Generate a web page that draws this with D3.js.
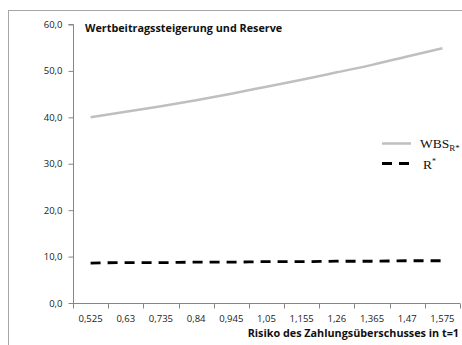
<!DOCTYPE html>
<html>
<head>
<meta charset="utf-8">
<script src="https://cdn.jsdelivr.net/npm/d3@7"></script>
<style>
  html, body { margin: 0; padding: 0; background: #fff; }
  svg { display: block; }
</style>
</head>
<body>
<svg id="chart" width="462" height="345"></svg>
<script>
// Risiko-Stufen (Kategorien der x-Achse)
const categories = ["0,525", "0,63", "0,735", "0,84", "0,945", "1,05", "1,155", "1,26", "1,365", "1,47", "1,575"];
// Wertbeitragssteigerung WBS_R*
const wbsValues = [40.0, 41.2, 42.4, 43.7, 45.1, 46.6, 48.1, 49.7, 51.3, 53.1, 54.9];
// Reserve R*
const reserveValues = [8.6, 8.7, 8.7, 8.8, 8.8, 8.9, 8.9, 9.0, 9.0, 9.1, 9.1];
// Beschriftung der y-Achse
const yTicks = [0, 10, 20, 30, 40, 50, 60];

const svg = d3.select("#chart");
const sans = "'Open Sans', Lato, sans-serif";
const axisGrey = "#868686";

// Rahmen des Diagrammbereichs
svg.append("rect")
  .attr("x", 8.5).attr("y", 10.5)
  .attr("width", 470).attr("height", 360)
  .attr("fill", "none").attr("stroke", "#a6a6a6").attr("stroke-width", 1);

const plot = { left: 73, right: 460, top: 24.5, bottom: 303 };

const x = d3.scaleBand().domain(categories).range([plot.left, plot.right]).padding(0);
const y = d3.scaleLinear().domain([0, 60]).range([plot.bottom, plot.top]);

const fmt = d => d.toFixed(1).replace(".", ",");

// y-Achse
const yAxis = svg.append("g")
  .attr("transform", `translate(${plot.left + 0.5},0)`)
  .call(d3.axisLeft(y).tickValues(yTicks).tickFormat(fmt).tickSize(5).tickPadding(6));
yAxis.select(".domain").attr("stroke", axisGrey).attr("d", `M-5,${y(60)}H0V${y(0)}`);
yAxis.selectAll(".tick line").attr("stroke", axisGrey);
yAxis.selectAll(".tick text").attr("font-family", sans).attr("font-size", 9.5).attr("fill", "#222");

// x-Achse mit Teilstrichen an den Kategoriegrenzen
const xAxisG = svg.append("g").attr("transform", `translate(0,${plot.bottom + 0.5})`);
xAxisG.append("line")
  .attr("x1", plot.left).attr("x2", plot.right)
  .attr("stroke", axisGrey);
const bounds = categories.map(c => x(c)).concat([plot.right]);
xAxisG.selectAll("line.tk").data(bounds).join("line")
  .attr("class", "tk")
  .attr("x1", d => Math.round(d) + 0.5).attr("x2", d => Math.round(d) + 0.5)
  .attr("y1", 0).attr("y2", 5)
  .attr("stroke", axisGrey);
xAxisG.selectAll("text").data(categories).join("text")
  .attr("x", d => x(d) + x.bandwidth() / 2)
  .attr("y", 18)
  .attr("text-anchor", "middle")
  .attr("font-family", sans).attr("font-size", 9.5).attr("fill", "#222")
  .text(d => d);

// Linien
const line = d3.line()
  .x((d, i) => x(categories[i]) + x.bandwidth() / 2)
  .y(d => y(d))
  .curve(d3.curveMonotoneX);

svg.append("path").datum(wbsValues)
  .attr("d", line)
  .attr("fill", "none").attr("stroke", "#bfbfbf").attr("stroke-width", 2.5);

svg.append("path").datum(reserveValues)
  .attr("d", line)
  .attr("fill", "none").attr("stroke", "#000").attr("stroke-width", 2.8)
  .attr("stroke-dasharray", "10,7");

// Titel
svg.append("text")
  .attr("x", 85).attr("y", 32)
  .attr("font-family", sans).attr("font-size", 10.8).attr("font-weight", "bold").attr("fill", "#111")
  .text("Wertbeitragssteigerung und Reserve");

// Achsentitel
svg.append("text")
  .attr("x", 459).attr("y", 337)
  .attr("text-anchor", "end")
  .attr("font-family", sans).attr("font-size", 10.8).attr("font-weight", "bold").attr("fill", "#111")
  .text("Risiko des Zahlungsüberschusses in t=1");

// Legende
const legend = svg.append("g");
legend.append("line")
  .attr("x1", 382).attr("x2", 411).attr("y1", 143.5).attr("y2", 143.5)
  .attr("stroke", "#bfbfbf").attr("stroke-width", 2.5);
legend.append("line")
  .attr("x1", 382).attr("x2", 411).attr("y1", 163.5).attr("y2", 163.5)
  .attr("stroke", "#000").attr("stroke-width", 2.8).attr("stroke-dasharray", "10,7");

const serif = "'Liberation Serif', 'DejaVu Serif', serif";
const t1 = legend.append("text")
  .attr("x", 420).attr("y", 148)
  .attr("font-family", serif).attr("font-size", 13.5).attr("fill", "#111");
t1.append("tspan").text("WBS");
t1.append("tspan").attr("dy", 3).attr("font-size", 9).text("R*");

const t2 = legend.append("text")
  .attr("x", 423).attr("y", 169)
  .attr("font-family", serif).attr("font-size", 13.5).attr("fill", "#111");
t2.append("tspan").text("R");
t2.append("tspan").attr("dy", -5).attr("font-size", 8).text("*");
</script>
</body>
</html>
